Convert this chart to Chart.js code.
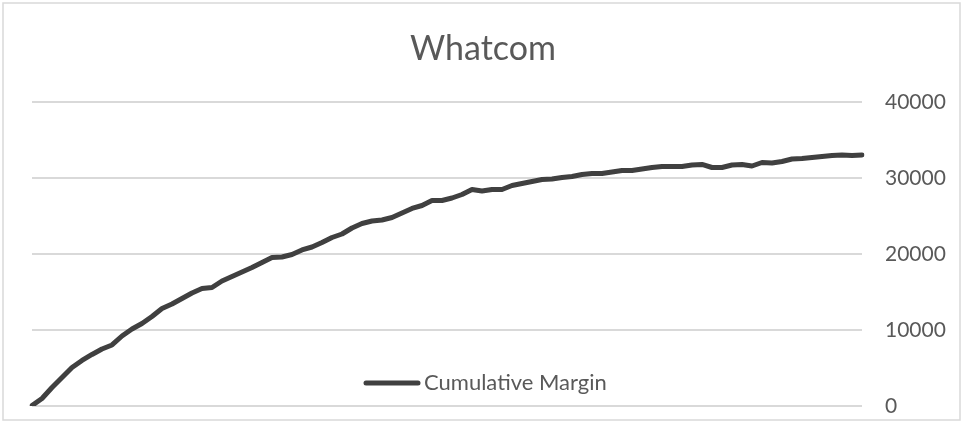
<!DOCTYPE html>
<html>
<head>
<meta charset="utf-8">
<title>Whatcom</title>
<script src="https://cdn.jsdelivr.net/npm/chart.js@4.4.1/dist/chart.umd.min.js"></script>
<style>
  html, body { margin: 0; padding: 0; background: #ffffff; }
  #wrap { width: 963px; height: 423px; }
</style>
</head>
<body>
<div id="wrap"><canvas id="myChart" width="963" height="423"></canvas></div>
<script>
var chartTitle = 'Whatcom';
var seriesName = 'Cumulative Margin';
var yTicks = [0, 10000, 20000, 30000, 40000];

// one value per period, running total of margin
var margin = [
    60, 990, 2430, 3750, 5070, 5990, 6780, 7500, 8030, 9210,
    10130, 10860, 11780, 12830, 13420, 14150, 14870, 15460, 15590, 16450,
    17040, 17630, 18220, 18880, 19540, 19610, 19930, 20530, 20920, 21510,
    22170, 22630, 23420, 24010, 24340, 24470, 24800, 25400, 25990, 26380,
    27040, 27040, 27370, 27830, 28490, 28290, 28490, 28490, 29010, 29280,
    29540, 29800, 29870, 30070, 30200, 30460, 30590, 30590, 30790, 30990,
    30990, 31180, 31380, 31510, 31510, 31510, 31710, 31780, 31380, 31380,
    31710, 31780, 31580, 32040, 31970, 32170, 32500, 32570, 32700, 32830,
    32960, 33030, 32960, 33030
];
var periods = [];
for (var i = 0; i < margin.length; i++) {
    periods.push(i + 1);
}

var textColor = '#595959';
var gridColor = '#d9d9d9';
var lineColor = '#404040';

// outer frame, title and the legend entry sitting inside the plot
var decorations = {
    id: 'decorations',
    beforeDraw: function (chart) {
        var c = chart.ctx;
        c.save();
        c.fillStyle = '#ffffff';
        c.fillRect(0, 0, chart.width, chart.height);
        c.strokeStyle = gridColor;
        c.lineWidth = 1.5;
        c.strokeRect(3, 3, 957, 417);
        c.restore();
    },
    afterDraw: function (chart) {
        var c = chart.ctx;
        var ds = chart.data.datasets[0];
        c.save();
        c.fillStyle = textColor;
        c.font = '34px Lato';
        c.textAlign = 'center';
        c.textBaseline = 'alphabetic';
        c.fillText(chartTitle, 483, 60);

        c.strokeStyle = ds.borderColor;
        c.lineWidth = 5;
        c.lineCap = 'round';
        c.beginPath();
        c.moveTo(366, 383);
        c.lineTo(418, 383);
        c.stroke();

        c.font = '22px Lato';
        c.textAlign = 'left';
        c.textBaseline = 'middle';
        c.fillText(ds.label, 424, 383);
        c.restore();
    }
};

var ctx = document.getElementById('myChart');
new Chart(ctx, {
    type: 'line',
    data: {
        labels: periods,
        datasets: [{
            label: seriesName,
            data: margin,
            borderColor: lineColor,
            backgroundColor: lineColor,
            borderWidth: 5,
            borderCapStyle: 'round',
            borderJoinStyle: 'round',
            pointRadius: 0,
            tension: 0,
            fill: false
        }]
    },
    options: {
        responsive: false,
        devicePixelRatio: 1,
        animation: false,
        layout: {
            padding: { left: 32, right: 0, top: 102, bottom: 17 }
        },
        plugins: {
            legend: { display: false },
            title: { display: false },
            tooltip: { enabled: false }
        },
        scales: {
            x: {
                type: 'category',
                offset: false,
                display: false
            },
            y: {
                position: 'right',
                min: yTicks[0],
                max: yTicks[yTicks.length - 1],
                afterBuildTicks: function (scale) {
                    scale.ticks = yTicks.map(function (v) { return { value: v }; });
                },
                afterFit: function (scale) {
                    scale.width = 101;
                },
                border: { display: false },
                grid: {
                    color: gridColor,
                    lineWidth: 2,
                    drawTicks: true,
                    tickLength: 20,
                    tickColor: 'rgba(0,0,0,0)'
                },
                ticks: {
                    padding: 3,
                    color: textColor,
                    font: { family: 'Lato', size: 21 },
                    crossAlign: 'near',
                    callback: function (value) {
                        return String(value);
                    }
                }
            }
        }
    },
    plugins: [decorations]
});
</script>
</body>
</html>
